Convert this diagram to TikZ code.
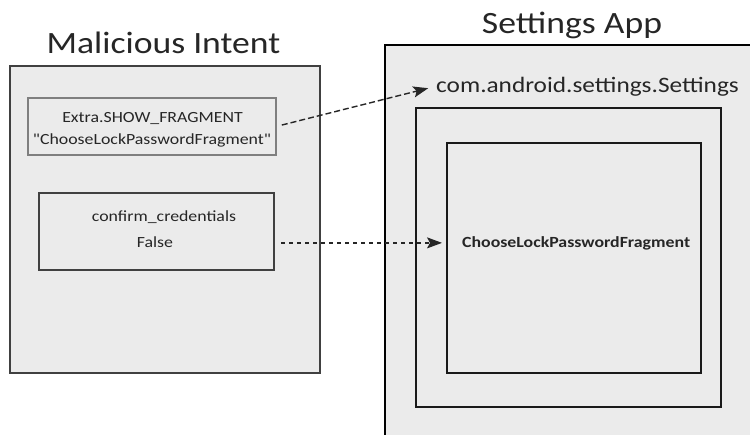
\documentclass[tikz,border=0pt]{standalone}
\usepackage{fontspec}
\setmainfont{Carlito}[FakeStretch=1.15, Ligatures=TeXOff]
\usetikzlibrary{arrows.meta}
\definecolor{boxfill}{HTML}{EBEBEB}
\definecolor{txt}{HTML}{262626}
\definecolor{edgegray}{HTML}{7F7F7F}
\definecolor{edgedark}{HTML}{404040}
\begin{document}
\begin{tikzpicture}[x=1pt,y=-1pt,
  panel/.style={fill=boxfill, inner sep=0pt, outer sep=0pt, line width=1.8pt},
  title/.style={anchor=base, inner sep=0pt, text=txt, font=\fontsize{31}{37}\selectfont},
  lbl/.style={anchor=base, inner sep=0pt, text=txt, font=\fontsize{15.5}{19}\selectfont},
  conn/.style={draw=txt, line width=1.4pt, -{Stealth[length=15pt,width=11pt,inset=3pt]}}]
\useasboundingbox (0,0) rectangle (750,434);
\clip (0,0) rectangle (750,434);
% left side
\node[panel, draw=edgedark, minimum width=310pt, minimum height=307pt] (intent) at (165,219.5) {};
\node[panel, draw=edgegray, line width=1.5pt, minimum width=248pt, minimum height=57pt] (b1) at (152,126.5) {};
\node[panel, draw=edgedark, minimum width=235pt, minimum height=77pt] (b2) at (156.5,231.5) {};
\node[title] (t1) at (163.5,53) {Malicious Intent};
\node[lbl] (b1a) at (152.5,122) {Extra.SHOW\_FRAGMENT};
\node[lbl] (b1b) at (152,144) {"ChooseLockPasswordFragment"};
\node[lbl] (b2a) at (164,221) {confirm\_credentials};
\node[lbl] (b2b) at (155,247) {False};
% right side
\node[panel, minimum width=425pt, minimum height=445pt] (app) at (597.5,267.5) {};
\draw[black, line width=1.5pt] (app.south west) -- (app.north west) -- (app.north east);
\node[panel, draw=black!90, minimum width=305pt, minimum height=299pt] (act) at (568.5,257.5) {};
\node[panel, draw=black!90, minimum width=254pt, minimum height=230pt] (frame) at (574,258) {};
\node[title] (t2) at (572,33) {Settings App};
\node[anchor=base west, inner sep=0pt, text=txt, font=\fontsize{22}{26}\selectfont] (com) at (436,92) {com.android.settings.Settings};
\node[anchor=base west, inner sep=0pt, text=txt, font=\fontsize{15.5}{19}\selectfont\bfseries] (frag) at (462,247) {ChooseLockPasswordFragment};
% connectors
\draw[conn, dash pattern=on 6pt off 3pt, shorten <=6pt, shorten >=8pt] (b1.east) -- (com.west);
\draw[conn, dash pattern=on 4pt off 4pt, shorten <=7pt, shorten >=20pt] (b2.east |- frag.west) -- (frag.west);
\end{tikzpicture}
\end{document}
